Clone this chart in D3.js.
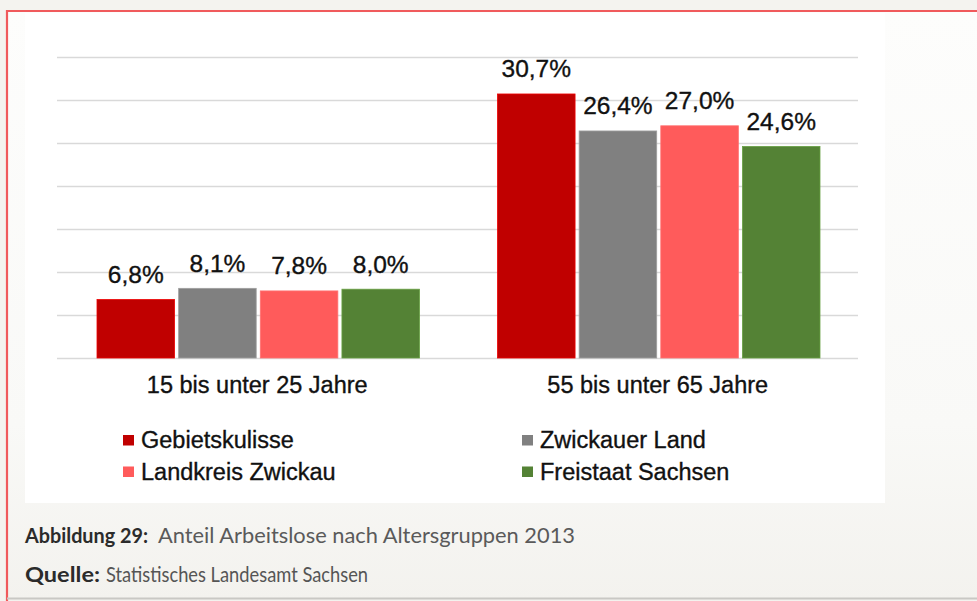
<!DOCTYPE html>
<html>
<head>
<meta charset="utf-8">
<script src="https://cdn.jsdelivr.net/npm/d3@7"></script>
<style>
  html, body { margin: 0; padding: 0; background: #f5f4f0; }
  svg { display: block; }
</style>
</head>
<body>
<script>
// ---- data ----
const groups = ["15 bis unter 25 Jahre", "55 bis unter 65 Jahre"];
const series = ["Gebietskulisse", "Zwickauer Land", "Landkreis Zwickau", "Freistaat Sachsen"];
const colors = ["#c00000", "#808080", "#ff5b5b", "#548235"];
const values = {
  "Gebietskulisse":    [6.8, 30.7],
  "Zwickauer Land":    [8.1, 26.4],
  "Landkreis Zwickau": [7.8, 27.0],
  "Freistaat Sachsen": [8.0, 24.6]
};
const yTicks = [0, 5, 10, 15, 20, 25, 30, 35];
const legendOrder = ["Gebietskulisse", "Zwickauer Land", "Landkreis Zwickau", "Freistaat Sachsen"];
const captionLabel = "Abbildung 29:";
const captionText = "Anteil Arbeitslose nach Altersgruppen 2013";
const sourceLabel = "Quelle:";
const sourceText = "Statistisches Landesamt Sachsen";

const W = 977, H = 601;
const fmt = v => d3.format(".1f")(v).replace(".", ",") + "%";
const arial = "'Liberation Sans', Arial, sans-serif";

const svg = d3.select("body").append("svg").attr("width", W).attr("height", H);

// paper background
svg.append("rect").attr("x", 0).attr("y", 0).attr("width", W).attr("height", H).attr("fill", "#f4f3ef");
const grad = svg.append("defs").append("linearGradient").attr("id", "paper")
  .attr("x1", 0).attr("y1", 0).attr("x2", 0).attr("y2", 1);
grad.append("stop").attr("offset", "0%").attr("stop-color", "#fdfdfc");
grad.append("stop").attr("offset", "70%").attr("stop-color", "#f9f9f7");
grad.append("stop").attr("offset", "100%").attr("stop-color", "#f3f2ee");
svg.append("rect").attr("x", 7).attr("y", 11).attr("width", W - 7).attr("height", H - 11).attr("fill", "url(#paper)");

// white chart panel
svg.append("rect").attr("x", 25).attr("y", 13).attr("width", 860).attr("height", 490).attr("fill", "#ffffff");

// red frame
svg.append("path").attr("d", `M7,${H} L7,11 L${W},11`).attr("fill", "none")
  .attr("stroke", "#f05a5c").attr("stroke-width", 2.2);
svg.append("line").attr("x1", 7).attr("x2", W).attr("y1", H - 2.5).attr("y2", H - 2.5)
  .attr("stroke", "#c9c8c4").attr("stroke-width", 2);

// scales
const x0 = d3.scaleBand().domain(groups).range([57, 858]).padding(0);
const x1 = d3.scaleBand().domain(series).range([40, x0.bandwidth() - 38]).paddingInner(0.05);
const y = d3.scaleLinear().domain([0, 35]).range([358, 57]);

// gridlines via axis
const gAxis = svg.append("g").attr("transform", "translate(57,0)")
  .call(d3.axisLeft(y).tickValues(yTicks).tickSize(-(858 - 57)).tickFormat(""));
gAxis.select(".domain").remove();
gAxis.selectAll(".tick line").attr("stroke", "#d9d9d9").attr("stroke-width", 1.6);

// bars
const gGroups = svg.append("g").selectAll("g").data(groups).join("g")
  .attr("transform", d => `translate(${x0(d)},0)`);

gGroups.each(function(g, gi) {
  const sel = d3.select(this);
  series.forEach((s, si) => {
    const v = values[s][gi];
    sel.append("rect")
      .attr("x", x1(s)).attr("width", x1.bandwidth())
      .attr("y", y(v)).attr("height", y(0) - y(v))
      .attr("fill", colors[si])
      .attr("stroke", d3.color(colors[si]).brighter(0.6)).attr("stroke-width", 0.8);
    sel.append("text")
      .attr("x", x1(s) + x1.bandwidth() / 2)
      .attr("y", y(v) - 16.5)
      .attr("text-anchor", "middle")
      .attr("font-family", arial)
      .attr("font-size", 24.5)
      .attr("fill", "#111").attr("stroke", "#111").attr("stroke-width", 0.35)
      .text(fmt(v));
  });
});

// category labels
svg.append("g").selectAll("text").data(groups).join("text")
  .attr("x", d => x0(d) + x0.bandwidth() / 2)
  .attr("y", 393)
  .attr("text-anchor", "middle")
  .attr("font-family", arial)
  .attr("font-size", 23.5)
  .attr("fill", "#111").attr("stroke", "#111").attr("stroke-width", 0.35)
  .text(d => d);

// legend
const legCols = [123, 522], legRows = [448, 479.5];
const leg = svg.append("g").selectAll("g").data(legendOrder).join("g")
  .attr("transform", (d, i) => `translate(${legCols[i % 2]},${legRows[Math.floor(i / 2)]})`);
leg.append("rect").attr("x", 0).attr("y", -13).attr("width", 11).attr("height", 10.5)
  .attr("fill", d => colors[series.indexOf(d)]);
leg.append("text").attr("x", 18).attr("y", 0)
  .attr("font-family", arial)
  .attr("font-size", 23.5)
  .attr("fill", "#111").attr("stroke", "#111").attr("stroke-width", 0.35)
  .text(d => d);

// caption
const capFont = "Lato, 'Open Sans', sans-serif";
svg.append("text").attr("x", 25).attr("y", 543)
  .attr("font-family", capFont).attr("font-size", 20.5).attr("font-weight", "bold")
  .attr("fill", "#2b2b2b").attr("textLength", 123).attr("lengthAdjust", "spacingAndGlyphs")
  .text(captionLabel);
svg.append("text").attr("x", 158).attr("y", 543)
  .attr("font-family", capFont).attr("font-size", 22)
  .attr("fill", "#5a5a5a").attr("textLength", 417).attr("lengthAdjust", "spacingAndGlyphs")
  .text(captionText);
svg.append("text").attr("x", 25).attr("y", 582)
  .attr("font-family", capFont).attr("font-size", 20.5).attr("font-weight", "bold")
  .attr("fill", "#2b2b2b").attr("textLength", 75).attr("lengthAdjust", "spacingAndGlyphs")
  .text(sourceLabel);
svg.append("text").attr("x", 106).attr("y", 582)
  .attr("font-family", capFont).attr("font-size", 20.5)
  .attr("fill", "#555").attr("textLength", 262).attr("lengthAdjust", "spacingAndGlyphs")
  .text(sourceText);
</script>
</body>
</html>
